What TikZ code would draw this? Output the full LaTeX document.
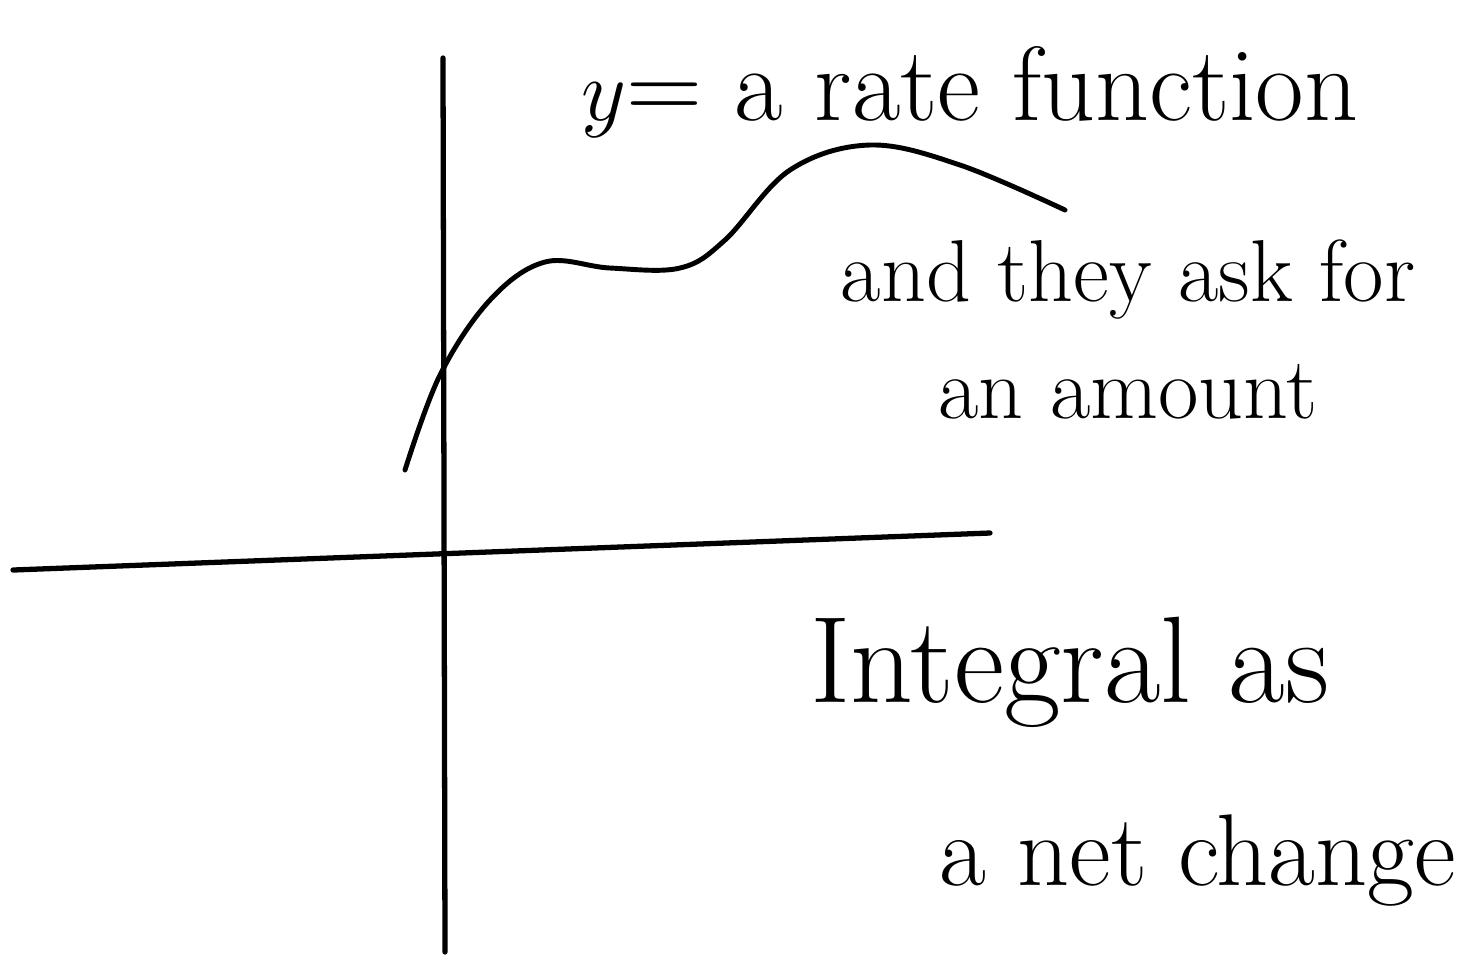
\documentclass[tikz,border=0pt]{standalone}
\usepackage{tikz}
\usetikzlibrary{positioning}

\begin{document}
\begin{tikzpicture}[
  x=0.01cm,y=-0.01cm,
  ax/.style={line width=1.5pt,line cap=round},
  crv/.style={line width=1.4pt,line cap=round},
  big/.style={font=\fontsize{30}{34}\selectfont,anchor=center},
  mid/.style={font=\fontsize{25}{29}\selectfont,anchor=center},
  huge/.style={font=\fontsize{35}{40}\selectfont,anchor=center}
]
  \useasboundingbox (0,0) rectangle (1475,956);
  % axes
  \draw[ax] (443,58) -- (445,952);
  \draw[ax] (13,570) -- (990,533);
  % rate curve
  \draw[crv] plot[smooth,tension=0.6] coordinates {(405,470) (440,375) (490,300)
    (545,262) (610,268) (680,268) (725,240) (790,170) (870,145) (960,165)
    (1065,210)};
  % labels
  \node[big] (rate) at (970,92) {$y$= a rate function};
  \node[mid] (ask) at (1128,280) {and they ask for};
  \node[mid,below=0.2cm of ask] (amount) {an amount};
  \node[huge] (integral) at (1070,672) {Integral as};
  \node[huge,font=\fontsize{29}{34}\selectfont] (netchange) at (1198,860) {a net change};
\end{tikzpicture}
\end{document}
